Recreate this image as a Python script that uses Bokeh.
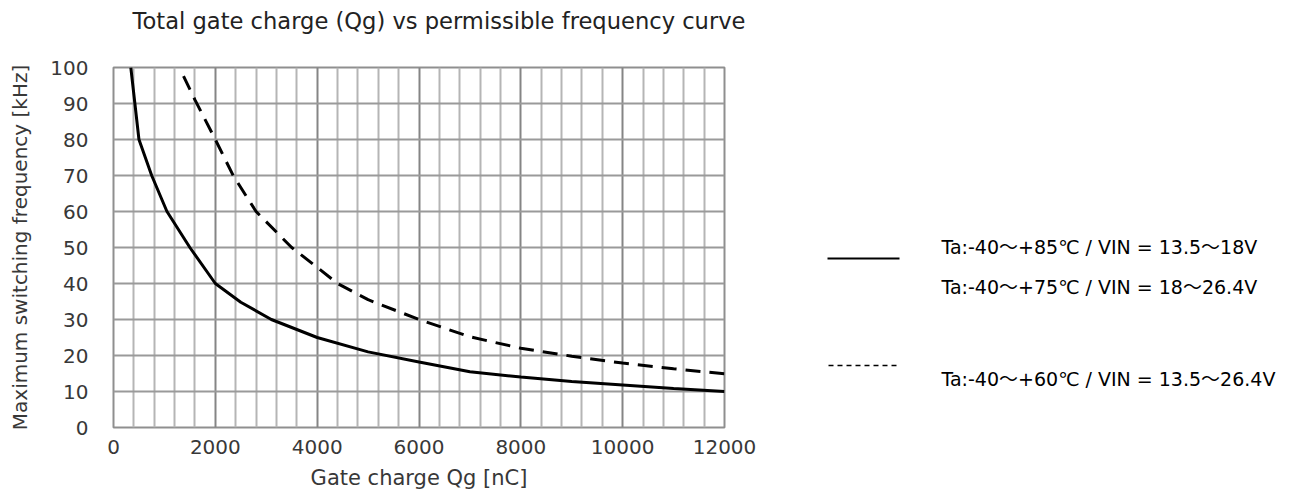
from bokeh.plotting import figure
from bokeh.layouts import row
from bokeh.models import FixedTicker, Range1d, Title
from bokeh.core.properties import value
from bokeh.embed import file_html
from bokeh.resources import INLINE

# ---- data ----
solid_q = [340, 420, 500, 750, 1050, 1500, 2000, 2500, 3100, 4000, 5000, 6000, 7000, 8000, 9000, 10000, 11000, 12000]
solid_f = [100, 90, 80, 70, 60, 50, 40, 34.8, 30, 25, 21, 18.2, 15.5, 14, 12.8, 11.8, 10.8, 10]
dash_q = [1375, 1600, 2000, 2350, 2800, 3500, 4000, 4400, 5000, 6000, 7000, 8000, 9000, 10000, 11000, 12000]
dash_f = [97.6, 91, 80, 70, 60, 50, 44.5, 40, 35.5, 30, 25.2, 22, 19.8, 17.9, 16.3, 14.9]
x_major = [0, 2000, 4000, 6000, 8000, 10000, 12000]
x_minor = [v for v in range(400, 12000, 400) if v % 2000 != 0]
y_ticks = [0, 10, 20, 30, 40, 50, 60, 70, 80, 90, 100]
legend_labels = ["Ta:-40～+85℃ / VIN = 13.5～18V",
                 "Ta:-40～+75℃ / VIN = 18～26.4V",
                 "Ta:-40～+60℃ / VIN = 13.5～26.4V"]
title_text = "Total gate charge (Qg) vs permissible frequency curve"
x_label = "Gate charge Qg [nC]"
y_label = "Maximum switching frequency [kHz]"

FONT = "DejaVu Sans"

p = figure(width=808, height=500, output_backend="svg", toolbar_location=None,
           x_range=Range1d(0, 12000), y_range=Range1d(0, 100),
           min_border_left=113, min_border_right=84, min_border_top=67, min_border_bottom=73)

# spacer panel between the title and the frame
p.add_layout(Title(text=" ", text_font_size="10px", standoff=19), "above")

p.title.text = title_text
p.title.text_font = FONT
p.title.text_font_size = "22.6px"
p.title.text_font_style = "normal"
p.title.text_color = "#222222"
p.title.align = "left"
p.title.offset = 19
p.title.vertical_align = "top"
p.title.standoff = 0

p.xaxis.ticker = FixedTicker(ticks=x_major, minor_ticks=x_minor)
p.yaxis.ticker = FixedTicker(ticks=y_ticks)
for ax in (p.xaxis, p.yaxis):
    ax.major_tick_line_color = None
    ax.minor_tick_line_color = None
    ax.major_tick_out = 0
    ax.major_tick_in = 0
    ax.minor_tick_out = 0
    ax.minor_tick_in = 0
    ax.axis_line_color = None
    ax.major_label_text_font = FONT
    ax.major_label_text_font_size = "20px"
    ax.major_label_text_color = "#383838"
    ax.axis_label_text_font = FONT
    ax.axis_label_text_font_style = "normal"
    ax.axis_label_text_color = "#383838"
p.xaxis.axis_label = x_label
p.yaxis.axis_label = y_label
p.xaxis.axis_label_text_font_size = "21px"
p.yaxis.axis_label_text_font_size = "20px"
p.yaxis.major_label_standoff = 25
p.xaxis.major_label_standoff = 12
p.yaxis.axis_label_standoff = 15
p.xaxis.axis_label_standoff = 9

p.xgrid.grid_line_color = "#858585"
p.xgrid.grid_line_width = 2
p.xgrid.minor_grid_line_color = "#b5b5b5"
p.xgrid.minor_grid_line_width = 2
p.ygrid.grid_line_color = "#9a9a9a"
p.ygrid.grid_line_width = 2
p.outline_line_color = "#8f8f8f"
p.outline_line_width = 2

p.line(solid_q, solid_f, line_color="black", line_width=3)
p.line(dash_q, dash_f, line_color="black", line_width=3, line_dash="15 9")

# ---- legend panel (frame spans page y 67..427, x 808..1292) ----
lg = figure(width=484, height=500, output_backend="svg", toolbar_location=None,
            x_range=Range1d(0, 484), y_range=Range1d(427, 67),
            min_border_left=0, min_border_right=0, min_border_top=67, min_border_bottom=73,
            outline_line_color=None)
lg.axis.visible = False
lg.grid.visible = False
lg.line([19, 91], [258, 258], line_color="black", line_width=2)
lg.line([20, 92], [365, 365], line_color="black", line_width=1.5, line_dash="5 4")
lg.text(x=[133, 133, 133], y=[246.7, 286, 378.3], text=legend_labels,
        text_font=value(FONT + ", Noto Sans CJK JP"), text_font_size="19px",
        text_baseline="alphabetic", text_align="left", text_color="black")

layout = row(p, lg)
open("out.html", "w").write(file_html(layout, INLINE))
